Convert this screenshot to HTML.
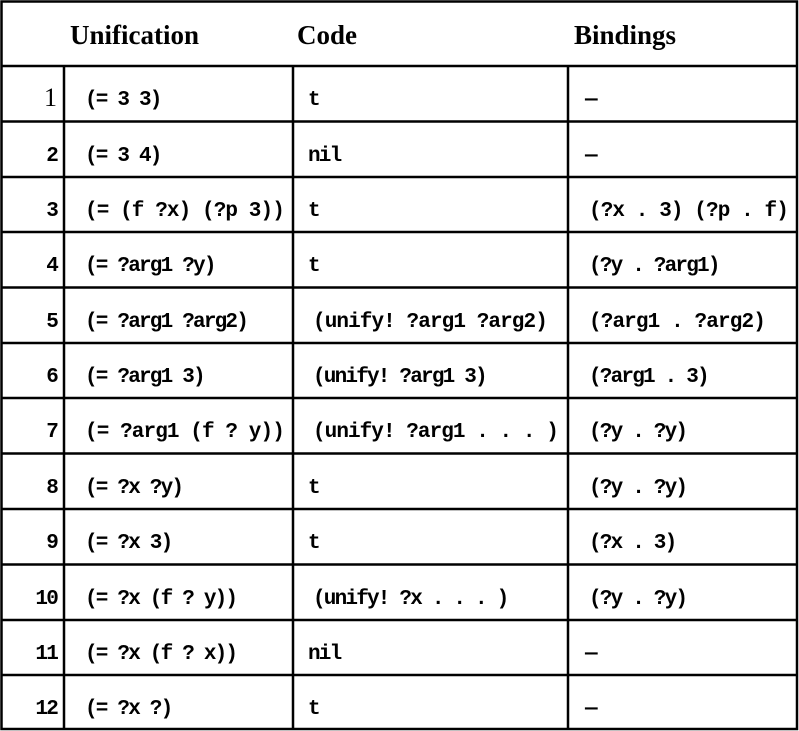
<!DOCTYPE html>
<html><head><meta charset="utf-8"><style>
html,body{margin:0;padding:0;background:#fff;}
svg{display:block}
.h{font-family:"Liberation Serif",serif;font-size:27px;font-weight:bold;}
.m{font-family:"Liberation Mono",monospace;font-size:21px;font-weight:bold;white-space:pre;letter-spacing:-1.8px;}
</style></head><body>
<svg width="799" height="731" viewBox="0 0 799 731" xmlns="http://www.w3.org/2000/svg">
<g stroke="#000" stroke-width="2.5" fill="none">
<rect x="1.5" y="1.5" width="795.5" height="727.5"/>
<line x1="1" y1="66" x2="798" y2="66"/>
<line x1="1" y1="121.5" x2="798" y2="121.5"/>
<line x1="1" y1="177" x2="798" y2="177"/>
<line x1="1" y1="232" x2="798" y2="232"/>
<line x1="1" y1="287.5" x2="798" y2="287.5"/>
<line x1="1" y1="343" x2="798" y2="343"/>
<line x1="1" y1="398" x2="798" y2="398"/>
<line x1="1" y1="453.5" x2="798" y2="453.5"/>
<line x1="1" y1="509" x2="798" y2="509"/>
<line x1="1" y1="564.5" x2="798" y2="564.5"/>
<line x1="1" y1="620" x2="798" y2="620"/>
<line x1="1" y1="675" x2="798" y2="675"/>
<line x1="64" y1="66" x2="64" y2="730"/>
<line x1="293" y1="66" x2="293" y2="730"/>
<line x1="568" y1="66" x2="568" y2="730"/>
</g>
<g class="h">
<text x="70" y="44">Unification</text>
<text x="297" y="44">Code</text>
<text x="574" y="44">Bindings</text>
</g>
<g class="m" xml:space="preserve">
<text x="57" y="106" text-anchor="end" style="font-family:'Liberation Serif',serif;font-weight:normal;font-size:26px;letter-spacing:0">1</text>
<text x="57" y="161" text-anchor="end">2</text>
<text x="57" y="216" text-anchor="end">3</text>
<text x="57" y="271" text-anchor="end">4</text>
<text x="57" y="327" text-anchor="end">5</text>
<text x="57" y="382" text-anchor="end">6</text>
<text x="57" y="437" text-anchor="end">7</text>
<text x="57" y="493" text-anchor="end">8</text>
<text x="57" y="548" text-anchor="end">9</text>
<text x="57" y="604" text-anchor="end">10</text>
<text x="57" y="659" text-anchor="end">11</text>
<text x="57" y="714" text-anchor="end">12</text>

<text x="85" y="105">(= 3 3)</text>
<text x="85" y="161">(= 3 4)</text>
<text x="85" y="216" textLength="198">(= (f ?x) (?p 3))</text>
<text x="85" y="271">(= ?arg1 ?y)</text>
<text x="85" y="327">(= ?arg1 ?arg2)</text>
<text x="85" y="382">(= ?arg1 3)</text>
<text x="85" y="437" textLength="198">(= ?arg1 (f ? y))</text>
<text x="85" y="493">(= ?x ?y)</text>
<text x="85" y="548">(= ?x 3)</text>
<text x="85" y="604">(= ?x (f ? y))</text>
<text x="85" y="659">(= ?x (f ? x))</text>
<text x="85" y="714">(= ?x ?)</text>

<text x="308" y="105">t</text>
<text x="308" y="161">nil</text>
<text x="308" y="216">t</text>
<text x="308" y="271">t</text>
<text x="313" y="327" textLength="233">(unify! ?arg1 ?arg2)</text>
<text x="313" y="382">(unify! ?arg1 3)</text>
<text x="313" y="437" textLength="244">(unify! ?arg1 . . . )</text>
<text x="308" y="493">t</text>
<text x="308" y="548">t</text>
<text x="313" y="604">(unify! ?x . . . )</text>
<text x="308" y="659">nil</text>
<text x="308" y="714">t</text>

<text x="585" y="105">—</text>
<text x="585" y="161">—</text>
<text x="589" y="216" textLength="198">(?x . 3) (?p . f)</text>
<text x="589" y="271">(?y . ?arg1)</text>
<text x="589" y="327" textLength="175">(?arg1 . ?arg2)</text>
<text x="589" y="382">(?arg1 . 3)</text>
<text x="589" y="437">(?y . ?y)</text>
<text x="589" y="493">(?y . ?y)</text>
<text x="589" y="548">(?x . 3)</text>
<text x="589" y="604">(?y . ?y)</text>
<text x="585" y="659">—</text>
<text x="585" y="714">—</text>
</g>
</svg>
</body></html>
